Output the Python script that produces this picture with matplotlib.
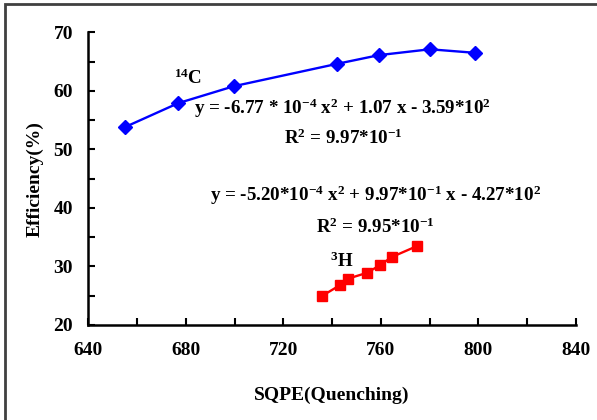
import matplotlib
matplotlib.use('Agg')
import matplotlib.pyplot as plt
from matplotlib.patches import Rectangle

# 14C efficiency vs quenching
c14_x = [655.0, 676.9, 699.8, 741.9, 759.2, 780.1, 798.4]
c14_y = [53.8, 57.9, 60.8, 64.6, 66.1, 67.1, 66.5]

# 3H efficiency vs quenching
h3_x = [736.0, 743.2, 746.4, 754.2, 759.6, 764.4, 774.9]
h3_y = [25.0, 26.8, 27.9, 28.9, 30.2, 31.6, 33.5]

x_ticks = [640, 680, 720, 760, 800, 840]
y_ticks = [20, 30, 40, 50, 60, 70]

plt.rcParams['font.family'] = 'Liberation Serif'
plt.rcParams['font.weight'] = 'bold'
plt.rcParams['mathtext.fontset'] = 'custom'
plt.rcParams['mathtext.rm'] = 'Liberation Serif:bold'
plt.rcParams['mathtext.default'] = 'rm'

fig = plt.figure(figsize=(5.97, 4.2), dpi=100)
ax = fig.add_axes([0.1479, 0.2262, 0.8169, 0.6969])

# outer frame (cut off at right and bottom)
fig.patches.append(Rectangle((5 / 597, -0.05), 1.2, 1 - 4 / 420 + 0.05,
                             transform=fig.transFigure, fill=False,
                             edgecolor='#404040', linewidth=2))

ax.plot(c14_x, c14_y, color='#0000FF', lw=1.7, marker='D', ms=7, zorder=3)
ax.plot(h3_x, h3_y, color='#FF0000', lw=1.7, marker='s', ms=6.5, zorder=3)

ax.set_xlim(640, 840)
ax.set_ylim(20, 70)
ax.set_xticks(x_ticks)
ax.set_yticks(y_ticks)
ax.set_xticks(range(660, 840, 40), minor=True)
ax.set_yticks(range(25, 70, 10), minor=True)
ax.tick_params(which='both', direction='in', width=1.5, length=5)
ax.tick_params(axis='x', labelsize=14, pad=12)
ax.tick_params(axis='y', labelsize=14, pad=11)
for s in ['top', 'right']:
    ax.spines[s].set_visible(False)
for s in ['left', 'bottom']:
    ax.spines[s].set_linewidth(1.8)

ax.set_xlabel('SQPE(Quenching)', fontsize=14, fontweight='bold', labelpad=20)
ax.set_ylabel('Efficiency(%)', fontsize=14, fontweight='bold', labelpad=7)

fs = 13.7
ax.text(681.1, 62.2, r'$^{14}$C', fontsize=fs, ha='center', va='center')
ax.text(744, 57.1, r'y = -6.77 * 10$^{-4}$ x$^{2}$ + 1.07 x - 3.59*10$^{2}$',
        fontsize=fs, ha='center', va='center')
ax.text(744.6, 51.9, r'R$^{2}$ = 9.97*10$^{-1}$', fontsize=fs, ha='center', va='center')
ax.text(757.8, 42.2, r'y = -5.20*10$^{-4}$ x$^{2}$ + 9.97*10$^{-1}$ x - 4.27*10$^{2}$',
        fontsize=fs, ha='center', va='center')
ax.text(757.8, 36.7, r'R$^{2}$ = 9.95*10$^{-1}$', fontsize=fs, ha='center', va='center')
ax.text(743.8, 30.9, r'$^{3}$H', fontsize=fs, ha='center', va='center')

fig.savefig('out.png', dpi=100)
